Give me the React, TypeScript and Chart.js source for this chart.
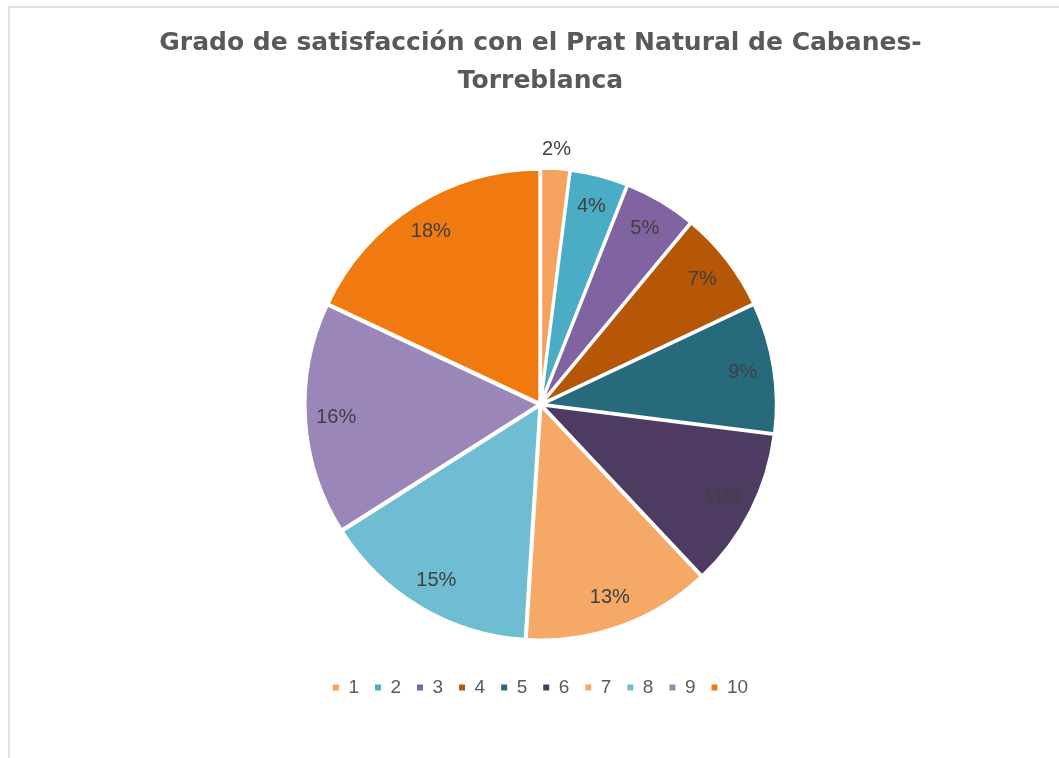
import React, { useEffect, useRef } from "react";
import { Chart, registerables } from "chart.js";

Chart.register(...registerables);

const categories = ["1", "2", "3", "4", "5", "6", "7", "8", "9", "10"];
const percentages = [2, 4, 5, 7, 9, 11, 13, 15, 16, 18];
const sliceColors = [
  "#F5A25E",
  "#4BACC6",
  "#8064A2",
  "#B65708",
  "#276A7C",
  "#4D3B62",
  "#F6A867",
  "#6FBDD3",
  "#9B86BA",
  "#F07A10",
];
const titleLines = ["Grado de satisfacción con el Prat Natural de Cabanes-", "Torreblanca"];

const labelPlugin = {
  id: "pctLabels",
  afterDatasetsDraw(chart: any) {
    const ctx = chart.ctx;
    const meta = chart.getDatasetMeta(0);
    ctx.save();
    ctx.font = '20px "Liberation Sans", Arial, sans-serif';
    ctx.fillStyle = "#404040";
    ctx.textAlign = "center";
    ctx.textBaseline = "middle";
    meta.data.forEach((arc: any, i: number) => {
      const { x, y, startAngle, endAngle, outerRadius } = arc.getProps(
        ["x", "y", "startAngle", "endAngle", "outerRadius"],
        true
      );
      const mid = (startAngle + endAngle) / 2;
      const outside = percentages[i] <= 2;
      const r = outside ? outerRadius + 22 : outerRadius * 0.875;
      ctx.fillText(percentages[i] + "%", x + Math.cos(mid) * r, y + Math.sin(mid) * r);
    });
    ctx.restore();
  },
};

export default function App() {
  const ref = useRef<HTMLCanvasElement>(null);
  useEffect(() => {
    if (!ref.current) return;
    const chart = new Chart(ref.current, {
      type: "pie",
      data: {
        labels: categories,
        datasets: [
          {
            data: percentages,
            backgroundColor: sliceColors,
            borderColor: "#ffffff",
            borderWidth: 3,
            offset: 5,
          },
        ],
      },
      plugins: [labelPlugin],
      options: {
        animation: false,
        responsive: false,
        maintainAspectRatio: false,
        radius: 234,
        layout: { padding: { left: 22, right: 0, top: 0, bottom: 51 } },
        plugins: {
          tooltip: { enabled: false },
          title: {
            display: true,
            text: titleLines,
            color: "#595959",
            font: { family: '"DejaVu Sans", sans-serif', size: 25, weight: "bold", lineHeight: 1.52 },
            padding: { top: 24, bottom: 47 },
          },
          legend: {
            position: "bottom",
            labels: {
              color: "#595959",
              font: { family: '"Liberation Sans", Arial, sans-serif', size: 19 },
              boxWidth: 6,
              boxHeight: 6,
              padding: 16,
              generateLabels: (chart: any) =>
                Chart.overrides.pie.plugins.legend.labels.generateLabels(chart).map((item: any) => ({
                  ...item,
                  lineWidth: 0,
                  strokeStyle: item.fillStyle,
                })),
            },
          },
        },
      },
    });
    return () => chart.destroy();
  }, []);
  return (
    <div style={{ position: "fixed", left: 0, top: 0, width: 1059, height: 758, background: "#fff" }}>
      <div
        style={{
          position: "absolute",
          left: 8,
          top: 6,
          width: 1060,
          height: 760,
          border: "2px solid #e3e3e3",
          boxSizing: "border-box",
        }}
      />
      <canvas ref={ref} width={1059} height={758} style={{ position: "absolute", left: 0, top: 0 }} />
    </div>
  );
}
